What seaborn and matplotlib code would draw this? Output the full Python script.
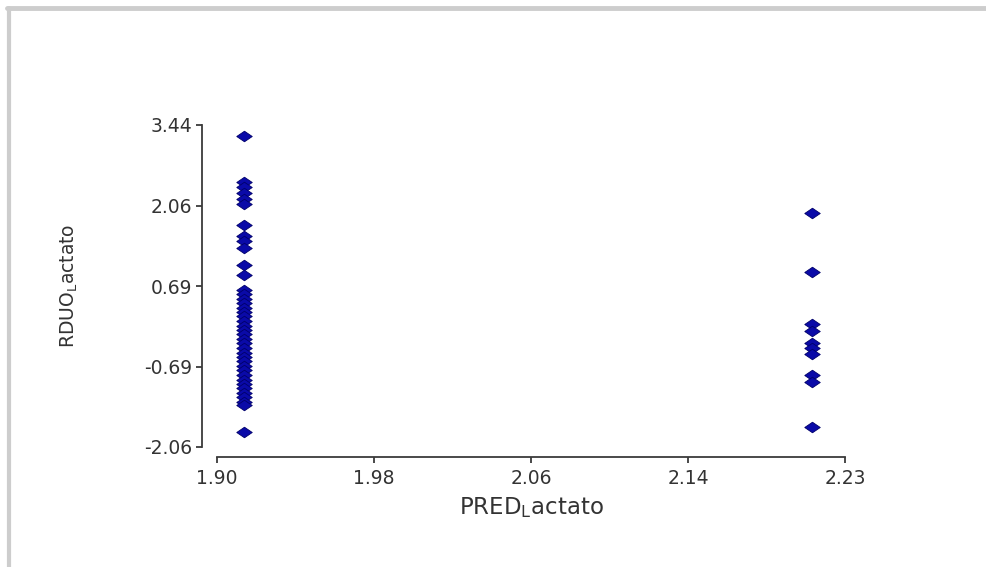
import numpy as np
import pandas as pd
import matplotlib
matplotlib.use("Agg")
import matplotlib.pyplot as plt
from matplotlib.lines import Line2D
import seaborn as sns

# ---- data ----
left_x = 1.914
left_y = [3.25,
          2.47, 2.38, 2.28, 2.18, 2.09,
          1.73,
          1.55, 1.45, 1.34,
          1.05, 0.87,
          0.62, 0.55, 0.47, 0.40, 0.32, 0.24, 0.17, 0.09, 0.01, -0.06,
          -0.14, -0.22, -0.29, -0.37, -0.45, -0.52, -0.60, -0.68, -0.75,
          -0.83, -0.91, -0.98, -1.06, -1.14, -1.21, -1.29, -1.35,
          -1.81]
right_x = 2.208
right_y = [1.93, 0.93, 0.03, -0.08, -0.29, -0.38, -0.47, -0.84, -0.95, -1.72]

x_ticks = [1.90, 1.98125, 2.0625, 2.14375, 2.225]
x_tick_labels = ["1.90", "1.98", "2.06", "2.14", "2.23"]
y_ticks = [-2.0625, -0.6875, 0.6875, 2.0625, 3.4375]
y_tick_labels = ["-2.06", "-0.69", "0.69", "2.06", "3.44"]

x_label = r"PRED$_{\mathrm{L}}$actato"
y_label = r"RDUO$_{\mathrm{L}}$actato"

df = pd.DataFrame({
    "x": [left_x] * len(left_y) + [right_x] * len(right_y),
    "y": left_y + right_y,
})

sns.set_style("white")
plt.rcParams["font.family"] = ["DejaVu Sans"]
plt.rcParams["mathtext.fontset"] = "dejavusans"

fig = plt.figure(figsize=(9.87, 5.67), dpi=100, facecolor="white")
ax = fig.add_axes([217 / 987, 1 - 447 / 567, (845 - 217) / 987, (447 - 125) / 567])
ax.set_facecolor("white")

diamond = [(-1, 0), (0, 0.68), (1, 0), (0, -0.68), (-1, 0)]
sns.scatterplot(data=df, x="x", y="y", ax=ax, marker=diamond, s=125,
                color="#0a0aa8", edgecolor="#00006a", linewidth=0.6, zorder=3)

ax.set_xlim(x_ticks[0], x_ticks[-1])
ax.set_ylim(y_ticks[0], y_ticks[-1])
ax.set_xticks(x_ticks)
ax.set_xticklabels(x_tick_labels)
ax.set_yticks(y_ticks)
ax.set_yticklabels(y_tick_labels)

for s in ["top", "right"]:
    ax.spines[s].set_visible(False)
ax.spines["left"].set_position(("outward", 10.5))
ax.spines["bottom"].set_position(("outward", 7.5))
for s in ["left", "bottom"]:
    ax.spines[s].set_color("#3a3a3a")
    ax.spines[s].set_linewidth(1.3)
ax.tick_params(axis="both", direction="out", length=4.5, width=1.3,
               color="#3a3a3a", labelsize=13.5, labelcolor="#333333")
ax.tick_params(axis="x", pad=4)
ax.tick_params(axis="y", pad=3)
ax.tick_params(axis="both", which="both", bottom=True, left=True)

ax.set_xlabel(x_label, fontsize=16.5, color="#333333", labelpad=5)
ax.set_ylabel(y_label, fontsize=13.5, color="#333333", labelpad=46)

# page frame (light grey border at top and left)
fig.add_artist(Line2D([7 / 987, 1], [1 - 7.5 / 567, 1 - 7.5 / 567],
                      transform=fig.transFigure, color="#cdcdcd", linewidth=3.5))
fig.add_artist(Line2D([9 / 987, 9 / 987], [0, 1 - 7.5 / 567],
                      transform=fig.transFigure, color="#cdcdcd", linewidth=3.0))

fig.savefig("out.png", dpi=100, facecolor="white")
